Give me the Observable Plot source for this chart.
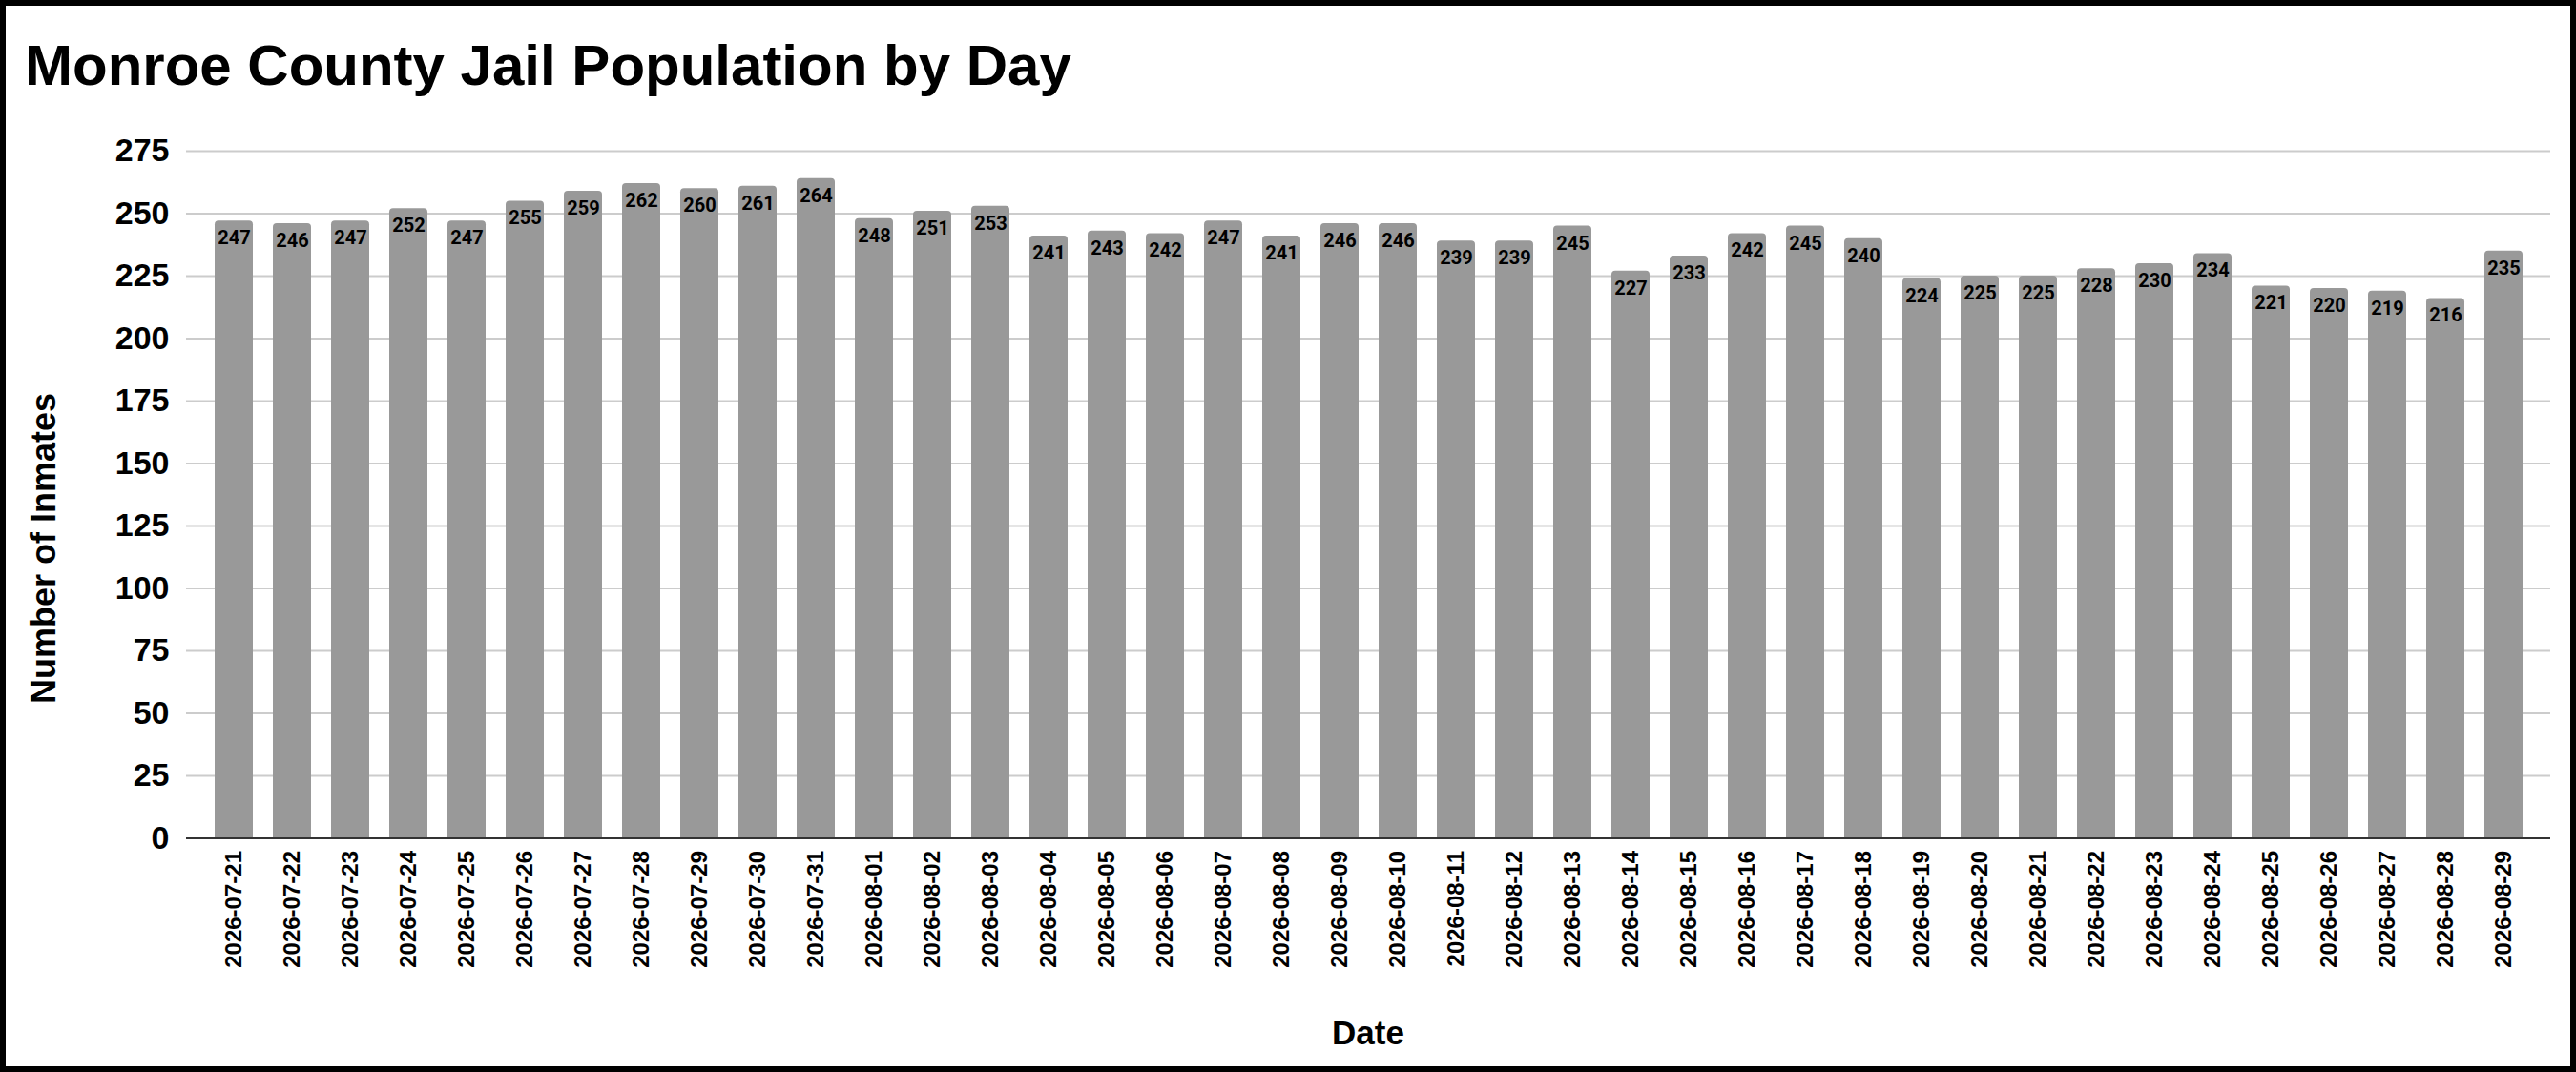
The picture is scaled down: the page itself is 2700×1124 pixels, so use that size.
<!DOCTYPE html>
<html>
<head>
<meta charset="utf-8">
<script src="https://cdn.jsdelivr.net/npm/d3@7"></script>
<script src="https://cdn.jsdelivr.net/npm/@observablehq/plot@0.6"></script>
<style>
  html, body { margin: 0; padding: 0; background: #fff; }
  #wrap {
    position: relative; width: 2700px; height: 1124px; box-sizing: border-box;
    border: 6px solid #000; background: #fff; overflow: hidden;
    font-family: "Liberation Sans", Arial, sans-serif;
  }
  #chart { position: absolute; left: 0; top: 0; }
  #title {
    position: absolute; left: 20px; top: 33px; white-space: nowrap;
    font-weight: bold; font-size: 60px; line-height: 60px; color: #000;
  }
  #xtitle {
    position: absolute; left: 1128px; top: 1059px; width: 600px; text-align: center;
    font-weight: bold; font-size: 35px; line-height: 35px; color: #000;
  }
  #ytitle {
    position: absolute; left: -260.5px; top: 551px; width: 600px; height: 36px; text-align: center;
    font-weight: bold; font-size: 36px; line-height: 36px; color: #000;
    transform: rotate(-90deg); transform-origin: 50% 50%; white-space: nowrap;
  }
</style>
</head>
<body>
<div id="wrap">
  <div id="chart"></div>
  <div id="title">Monroe County Jail Population by Day</div>
  <div id="ytitle">Number of Inmates</div>
  <div id="xtitle">Date</div>
</div>
<script>
const dates = [
  "2026-07-21","2026-07-22","2026-07-23","2026-07-24","2026-07-25","2026-07-26","2026-07-27",
  "2026-07-28","2026-07-29","2026-07-30","2026-07-31","2026-08-01","2026-08-02","2026-08-03",
  "2026-08-04","2026-08-05","2026-08-06","2026-08-07","2026-08-08","2026-08-09","2026-08-10",
  "2026-08-11","2026-08-12","2026-08-13","2026-08-14","2026-08-15","2026-08-16","2026-08-17",
  "2026-08-18","2026-08-19","2026-08-20","2026-08-21","2026-08-22","2026-08-23","2026-08-24",
  "2026-08-25","2026-08-26","2026-08-27","2026-08-28","2026-08-29"
];
const inmates = [
  247, 246, 247, 252, 247, 255, 259,
  262, 260, 261, 264, 248, 251, 253,
  241, 243, 242, 247, 241, 246, 246,
  239, 239, 245, 227, 233, 242, 245,
  240, 224, 225, 225, 228, 230, 234,
  221, 220, 219, 216, 235
];
const yTicks = [0, 25, 50, 75, 100, 125, 150, 175, 200, 225, 250, 275];

const data = dates.map((d, i) => ({date: d, count: inmates[i]}));

const chart = Plot.plot({
  width: 2688,
  height: 1112,
  marginLeft: 189,
  marginRight: 21,
  marginTop: 152,
  marginBottom: 239.5,
  style: {background: "transparent", fontFamily: "'Liberation Sans', Arial, sans-serif", overflow: "visible", color: "#000"},
  x: {type: "band", domain: dates, paddingInner: 0.35, paddingOuter: 0.355, label: null},
  y: {domain: [0, 275], label: null},
  marks: [
    Plot.gridY(yTicks, {stroke: "#cccccc", strokeOpacity: 1, strokeWidth: 2}),
    Plot.barY(data, {x: "date", y: "count", fill: "#999999", rx: 4, insetBottom: -8, clip: true}),
    Plot.ruleY([0], {stroke: "#333333", strokeWidth: 2}),
    Plot.text(data, {
      x: "date", y: "count", text: d => String(d.count), dy: 18,
      fontFamily: "Roboto, 'Liberation Sans', sans-serif", fontWeight: "bold", fontSize: 20, fill: "#000"
    }),
    Plot.axisY(yTicks, {tickSize: 0, tickPadding: 18, fontSize: 34, fontWeight: "bold", fill: "#000", label: null}),
    Plot.axisX({tickSize: 0, tickPadding: 13, tickRotate: -90, fontSize: 24, fontWeight: "bold", fill: "#000", label: null})
  ]
});
document.getElementById("chart").appendChild(chart);
</script>
</body>
</html>
